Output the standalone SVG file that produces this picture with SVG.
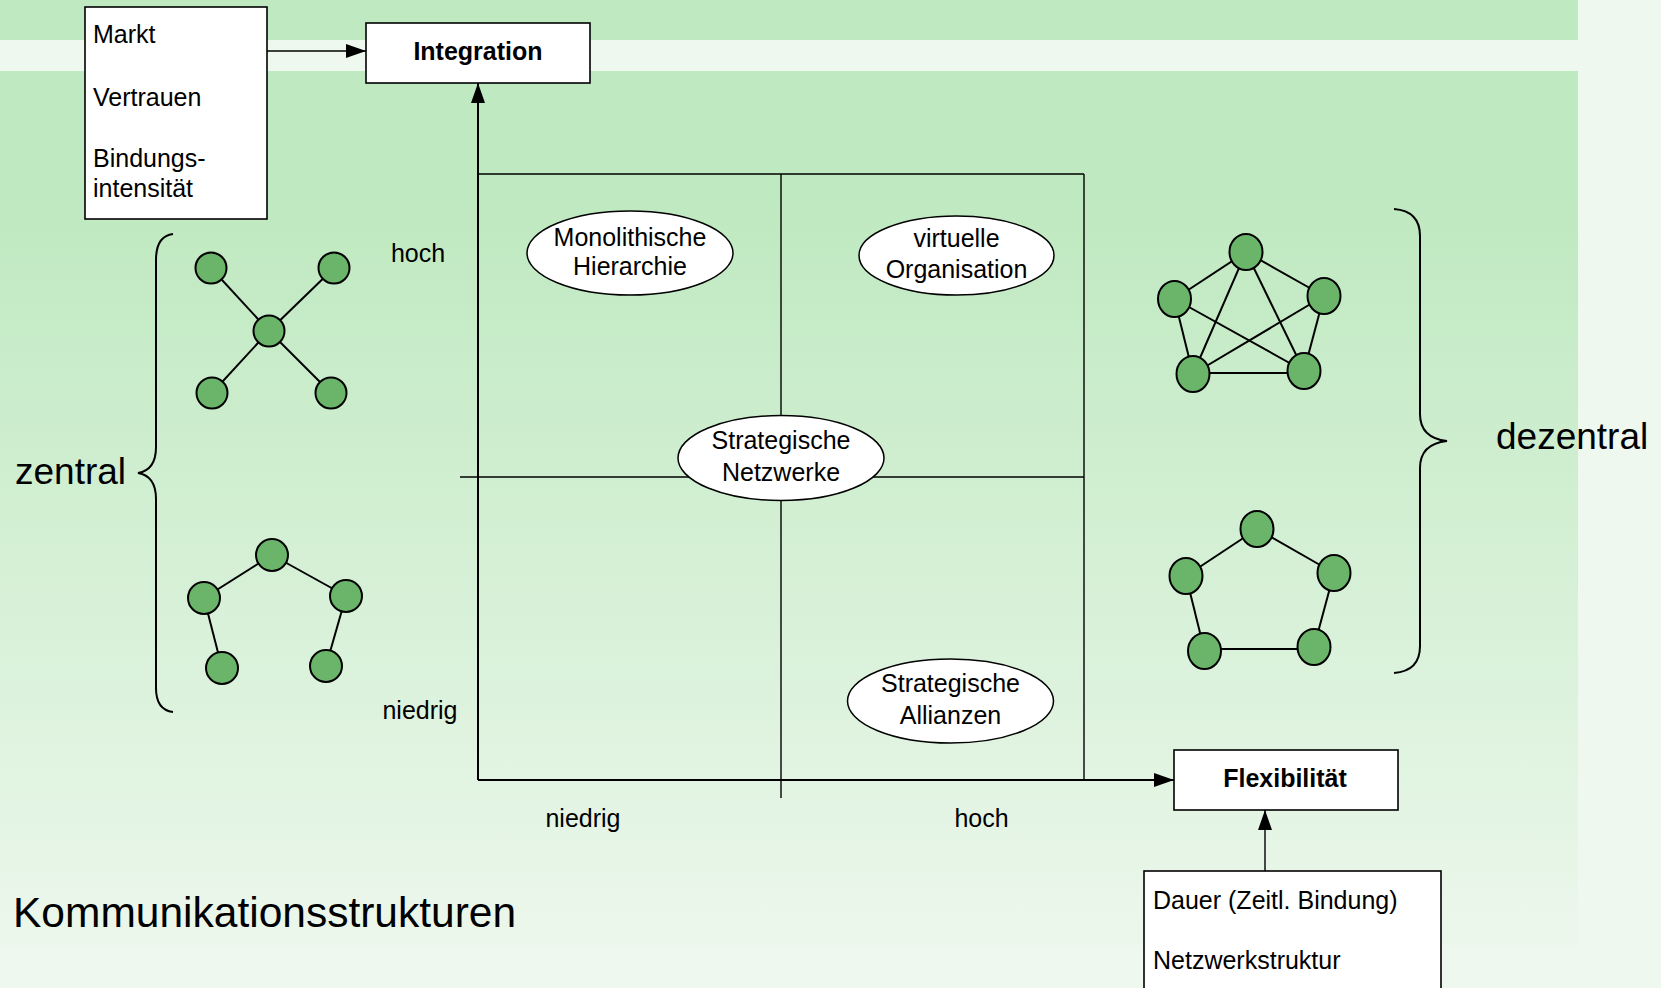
<svg xmlns="http://www.w3.org/2000/svg" width="1661" height="988" viewBox="0 0 1661 988">
<defs>
<linearGradient id="bg" gradientUnits="userSpaceOnUse" x1="0" y1="200" x2="0" y2="945">
<stop offset="0" stop-color="#bfe9c0"/>
<stop offset="1" stop-color="#ecf7ec"/>
</linearGradient>
<marker id="arr" viewBox="0 0 20 14" refX="20" refY="7" markerWidth="20" markerHeight="14" markerUnits="userSpaceOnUse" orient="auto">
<path d="M0,0 L20,7 L0,14 z" fill="#000"/>
</marker>
<style>
.box{fill:#fff;stroke:#000;stroke-width:1.6}
.ell{fill:#fff;stroke:#000;stroke-width:1.5}
.t{font-family:"Liberation Sans",Arial,sans-serif;font-size:25px;fill:#000}
.c{text-anchor:middle}
.b{font-weight:bold}
.big{font-family:"Liberation Sans",Arial,sans-serif;font-size:37px;fill:#000}
.ln{stroke:#000;stroke-width:1.4;fill:none}
.ax{stroke:#000;stroke-width:2;fill:none}
.br{stroke:#000;stroke-width:2;fill:none}
.e{stroke:#000;stroke-width:2}
.n{fill:#6bb56b;stroke:#000;stroke-width:2}
</style>
</defs>
<rect x="0" y="0" width="1661" height="988" fill="#eef8ee"/>
<rect x="0" y="0" width="1578" height="945" fill="url(#bg)"/>
<rect x="0" y="40" width="1578" height="31" fill="#eef8ee"/>

<g id="connectors">
<line class="ln" x1="478" y1="174" x2="1084" y2="174"/>
<line class="ln" x1="1084" y1="174" x2="1084" y2="780"/>
<line class="ln" x1="781" y1="174" x2="781" y2="798"/>
<line class="ln" x1="460" y1="477" x2="1084" y2="477"/>
<line class="ax" x1="478" y1="780" x2="478" y2="83" marker-end="url(#arr)"/>
<line class="ax" x1="478" y1="780" x2="1174" y2="780" marker-end="url(#arr)"/>
<line class="ln" x1="267" y1="51" x2="366" y2="51" marker-end="url(#arr)"/>
<line class="ln" x1="1265" y1="871" x2="1265" y2="810" marker-end="url(#arr)"/>
</g>

<g id="markt">
<rect class="box" x="85" y="7" width="182" height="212"/>
<text class="t" x="93" y="43">Markt</text>
<text class="t" x="93" y="106">Vertrauen</text>
<text class="t" x="93" y="167">Bindungs-</text>
<text class="t" x="93" y="197">intensität</text>
</g>

<g id="integration">
<rect class="box" x="366" y="23" width="224" height="60"/>
<text class="t c b" x="478" y="60">Integration</text>
</g>

<g id="flexibilitaet">
<rect class="box" x="1174" y="750" width="224" height="60"/>
<text class="t c b" x="1285" y="787">Flexibilität</text>
</g>

<g id="dauer">
<rect class="box" x="1144" y="871" width="297" height="130"/>
<text class="t" x="1153" y="909">Dauer (Zeitl. Bindung)</text>
<text class="t" x="1153" y="969">Netzwerkstruktur</text>
</g>

<g id="monolithische">
<ellipse class="ell" cx="630" cy="253" rx="103" ry="42"/>
<text class="t c" x="630" y="246">Monolithische</text>
<text class="t c" x="630" y="275">Hierarchie</text>
</g>

<g id="virtuelle">
<ellipse class="ell" cx="956.5" cy="255.5" rx="97.5" ry="39.5"/>
<text class="t c" x="956.5" y="247">virtuelle</text>
<text class="t c" x="956.5" y="278">Organisation</text>
</g>

<g id="netzwerke">
<ellipse class="ell" cx="781" cy="458" rx="103" ry="42.5"/>
<text class="t c" x="781" y="449">Strategische</text>
<text class="t c" x="781" y="481">Netzwerke</text>
</g>

<g id="allianzen">
<ellipse class="ell" cx="950.5" cy="701" rx="103" ry="42"/>
<text class="t c" x="950.5" y="692">Strategische</text>
<text class="t c" x="950.5" y="724">Allianzen</text>
</g>

<g id="axis-labels">
<text class="t c" x="418" y="262">hoch</text>
<text class="t c" x="420" y="719">niedrig</text>
<text class="t c" x="583" y="827">niedrig</text>
<text class="t c" x="981.5" y="827">hoch</text>
</g>

<g id="zentral">
<path class="br" d="M173,234 Q156,236 156,260 L156,447 Q156,470 138,473 Q156,476 156,499 L156,688 Q156,710 173,712"/>
<text class="big" x="15" y="484">zentral</text>
</g>

<g id="dezentral">
<path class="br" d="M1394,209 Q1420,211 1420,236 L1420,414 Q1420,438 1447,441 Q1420,444 1420,468 L1420,646 Q1420,671 1394,673"/>
<text class="big" x="1496" y="449">dezentral</text>
</g>

<g id="star">
<line class="e" x1="269" y1="331" x2="211" y2="268"/>
<line class="e" x1="269" y1="331" x2="334" y2="268"/>
<line class="e" x1="269" y1="331" x2="212" y2="393"/>
<line class="e" x1="269" y1="331" x2="331" y2="393"/>
<circle class="n" cx="211" cy="268" r="15.5"/>
<circle class="n" cx="334" cy="268" r="15.5"/>
<circle class="n" cx="269" cy="331" r="15.5"/>
<circle class="n" cx="212" cy="393" r="15.5"/>
<circle class="n" cx="331" cy="393" r="15.5"/>
</g>

<g id="tree">
<line class="e" x1="272" y1="555" x2="204" y2="598"/>
<line class="e" x1="272" y1="555" x2="346" y2="596"/>
<line class="e" x1="204" y1="598" x2="222" y2="668"/>
<line class="e" x1="346" y1="596" x2="326" y2="666"/>
<circle class="n" cx="272" cy="555" r="16"/>
<circle class="n" cx="204" cy="598" r="16"/>
<circle class="n" cx="346" cy="596" r="16"/>
<circle class="n" cx="222" cy="668" r="16"/>
<circle class="n" cx="326" cy="666" r="16"/>
</g>

<g id="mesh">
<line class="e" x1="1246" y1="252" x2="1174.5" y2="299"/>
<line class="e" x1="1246" y1="252" x2="1324" y2="296"/>
<line class="e" x1="1246" y1="252" x2="1193" y2="374"/>
<line class="e" x1="1246" y1="252" x2="1304" y2="371"/>
<line class="e" x1="1174.5" y1="299" x2="1193" y2="374"/>
<line class="e" x1="1174.5" y1="299" x2="1304" y2="371"/>
<line class="e" x1="1324" y1="296" x2="1193" y2="374"/>
<line class="e" x1="1324" y1="296" x2="1304" y2="371"/>
<line class="e" x1="1193" y1="373" x2="1304" y2="373"/>
<ellipse class="n" cx="1246" cy="252" rx="16.5" ry="18"/>
<ellipse class="n" cx="1174.5" cy="299" rx="16.5" ry="18"/>
<ellipse class="n" cx="1324" cy="296" rx="16.5" ry="18"/>
<ellipse class="n" cx="1193" cy="374" rx="16.5" ry="18"/>
<ellipse class="n" cx="1304" cy="371" rx="16.5" ry="18"/>
</g>

<g id="ring">
<line class="e" x1="1257" y1="529" x2="1186" y2="576"/>
<line class="e" x1="1257" y1="529" x2="1334" y2="573"/>
<line class="e" x1="1186" y1="576" x2="1204.5" y2="651"/>
<line class="e" x1="1334" y1="573" x2="1314" y2="647"/>
<line class="e" x1="1204.5" y1="649" x2="1314" y2="649"/>
<ellipse class="n" cx="1257" cy="529" rx="16.5" ry="18"/>
<ellipse class="n" cx="1186" cy="576" rx="16.5" ry="18"/>
<ellipse class="n" cx="1334" cy="573" rx="16.5" ry="18"/>
<ellipse class="n" cx="1204.5" cy="651" rx="16.5" ry="18"/>
<ellipse class="n" cx="1314" cy="647" rx="16.5" ry="18"/>
</g>

<text id="title" class="big" x="13" y="927" style="font-size:42.5px">Kommunikationsstrukturen</text>
</svg>
